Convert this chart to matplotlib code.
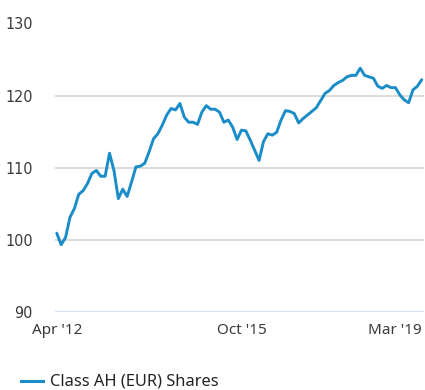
#!/usr/bin/env python3

"""Cumulative performance line, Class AH (EUR) Shares."""

import matplotlib
matplotlib.use("Agg")
import matplotlib.pyplot as plt

# month-end index levels, Apr 2012 .. Mar 2019 (84 months)
MONTHS = [f"{m} '{y % 100:02d}" for y in range(2012, 2020)
          for m in ['Jan', 'Feb', 'Mar', 'Apr', 'May', 'Jun',
                    'Jul', 'Aug', 'Sep', 'Oct', 'Nov', 'Dec']][3:87]
LEVELS = [
  100.9, 99.3, 100.3, 103.1, 104.3, 106.3, 106.8, 107.8, 109.2, 109.6,
  108.8, 108.8, 112.0, 109.6, 105.7, 107.0, 106.0, 108.0, 110.1, 110.2,
  110.6, 112.2, 114.0, 114.7, 115.9, 117.3, 118.2, 118.0, 118.9, 117.0,
  116.3, 116.3, 116.0, 117.7, 118.6, 118.1, 118.1, 117.7, 116.3, 116.6,
  115.6, 113.9, 115.2, 115.1, 113.8, 112.4, 111.0, 113.6, 114.7, 114.5,
  114.9, 116.6, 117.9, 117.8, 117.5, 116.2, 116.8, 117.3, 117.8, 118.3,
  119.3, 120.3, 120.7, 121.4, 121.8, 122.1, 122.6, 122.8, 122.8, 123.8,
  122.8, 122.6, 122.4, 121.3, 121.0, 121.4, 121.1, 121.1, 120.1, 119.4,
  119.0, 120.8, 121.3, 122.2,
]
TICK_LABELS = ["Apr '12", "Oct '15", "Mar '19"]
Y_TICKS = [90, 100, 110, 120, 130]
SERIES_NAME = "Class AH (EUR) Shares"

LINE_BLUE = '#1a8cc8'
GRID_GREY = '#dcdcdc'
TEXT_GREY = '#3a3a3a'


def main():
  """Draw and save the chart."""
  fig = plt.figure(figsize=(4.25, 3.9), dpi=100)
  ax1 = fig.add_axes([55 / 425, 1 - 311.7 / 390, 369 / 425, (311.7 - 23.5) / 390])

  x_data = list(range(len(LEVELS)))
  ax1.plot(x_data, LEVELS, color=LINE_BLUE, linewidth=2.1,
           solid_joinstyle='round', solid_capstyle='round', zorder=3)

  # horizontal guides, the bottom one drawn as a light blue baseline
  for y_val in Y_TICKS:
    if y_val == Y_TICKS[0]:
      ax1.axhline(y=y_val, color='#c8d8e8', linewidth=1.1, zorder=1)
    else:
      ax1.axhline(y=y_val, color=GRID_GREY, linewidth=1.4, zorder=1)

  ax1.set_xlim(-0.4, len(LEVELS) - 0.5)
  ax1.set_ylim(90, 130)
  for side in ['top', 'right', 'bottom', 'left']:
    ax1.spines[side].set_visible(False)

  ax1.set_yticks(Y_TICKS)
  ax1.set_yticklabels([str(v) for v in Y_TICKS], family='DejaVu Sans',
                      fontstretch='condensed', fontsize=11.5,
                      color=TEXT_GREY)
  ax1.tick_params(axis='y', length=0, pad=16)

  tick_pos = [MONTHS.index(lbl) for lbl in TICK_LABELS]
  ax1.set_xticks(tick_pos)
  ax1.set_xticklabels(TICK_LABELS, family='Noto Sans', fontsize=11,
                      color=TEXT_GREY)
  ax1.get_xticklabels()[-1].set_ha('right')
  ax1.get_xticklabels()[-1].set_x(tick_pos[-1] + 0.3)
  ax1.tick_params(axis='x', length=0, pad=8)

  # legend below the plot
  fig.lines.append(plt.Line2D([21 / 425, 43 / 425], [1 - 381 / 390] * 2,
                              color=LINE_BLUE, linewidth=2.2,
                              transform=fig.transFigure))
  fig.text(50 / 425, 1 - 381 / 390, SERIES_NAME, family='Noto Sans',
           fontsize=11.8, color='#222222', va='center', ha='left')

  fig.savefig('out.png', dpi=100)


if __name__ == "__main__":
  main()
